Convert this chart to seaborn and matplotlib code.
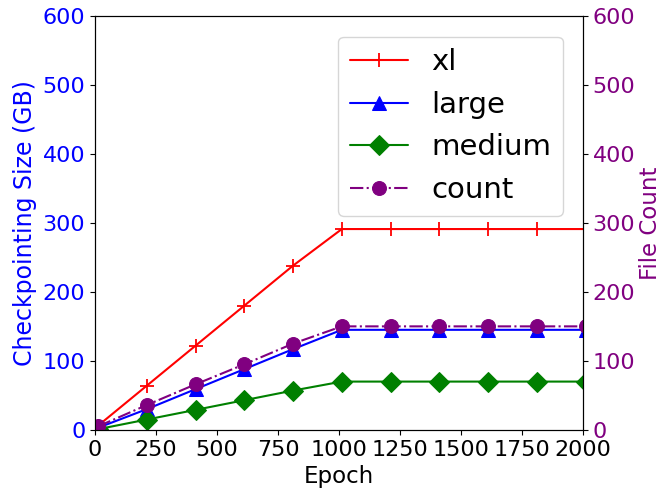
import matplotlib
matplotlib.use("Agg")
import matplotlib.pyplot as plt
import seaborn as sns
import pandas as pd

sns.set_style("ticks")
plt.rcParams['font.family'] = ['DejaVu Sans']
plt.rcParams.update({"text.color": "black", "axes.labelcolor": "black",
                     "xtick.color": "black", "ytick.color": "black",
                     "axes.edgecolor": "black"})

epochs = [12, 212, 412, 612, 812, 1012, 1212, 1412, 1612, 1812, 2012]
xl = [6, 64, 122, 180, 238, 291, 291, 291, 291, 291, 291]
large = [3, 30, 59, 88, 117, 145, 145, 145, 145, 145, 145]
medium = [1, 15, 29, 43, 57, 70, 70, 70, 70, 70, 70]
count = [5, 36, 66, 95, 125, 150, 150, 150, 150, 150, 150]

df = pd.DataFrame({"Epoch": epochs, "xl": xl, "large": large,
                   "medium": medium, "count": count})

fig, ax = plt.subplots(figsize=(6.6, 4.93), dpi=100)
fig.subplots_adjust(left=0.144, right=0.883, top=0.968, bottom=0.128)
ax2 = ax.twinx()

sns.lineplot(data=df, x="Epoch", y="xl", ax=ax, color="red", marker="+",
             markersize=10, markeredgewidth=1.3, markeredgecolor="red",
             linewidth=1.5, label="xl", legend=False)
sns.lineplot(data=df, x="Epoch", y="large", ax=ax, color="blue", marker="^",
             markersize=10, linewidth=1.5, label="large", legend=False,
             markeredgecolor="blue")
sns.lineplot(data=df, x="Epoch", y="medium", ax=ax, color="green", marker="D",
             markersize=10, linewidth=1.5, label="medium", legend=False,
             markeredgecolor="green")
sns.lineplot(data=df, x="Epoch", y="count", ax=ax2, color="purple", marker="o",
             markersize=10, linewidth=1.5, linestyle="-.", label="count",
             legend=False, markeredgecolor="purple")

ax.set_xlim(0, 2000)
ax.set_ylim(0, 600)
ax2.set_ylim(0, 600)
ax.set_xticks([0, 250, 500, 750, 1000, 1250, 1500, 1750, 2000])
ax.set_yticks([0, 100, 200, 300, 400, 500, 600])
ax2.set_yticks([0, 100, 200, 300, 400, 500, 600])

ax.set_xlabel("Epoch", fontsize=16.5, color="black")
ax.set_ylabel("Checkpointing Size (GB)", fontsize=17, color="blue")
ax2.set_ylabel("File Count", fontsize=16.5, color="purple", labelpad=2.5)
ax.tick_params(axis="x", labelsize=16, labelcolor="black")
ax.tick_params(axis="y", labelsize=16, labelcolor="blue")
ax2.tick_params(axis="y", labelsize=16, labelcolor="purple")

for a in (ax, ax2):
    for s in a.spines.values():
        s.set_visible(True)
        s.set_color("black")

h1, l1 = ax.get_legend_handles_labels()
h2, l2 = ax2.get_legend_handles_labels()
leg = ax2.legend(h1 + h2, l1 + l2, loc="upper right", fontsize=21,
                 bbox_to_anchor=(0.99, 0.985))
for t in leg.get_texts():
    t.set_color("black")

fig.savefig("out.png", dpi=100)
